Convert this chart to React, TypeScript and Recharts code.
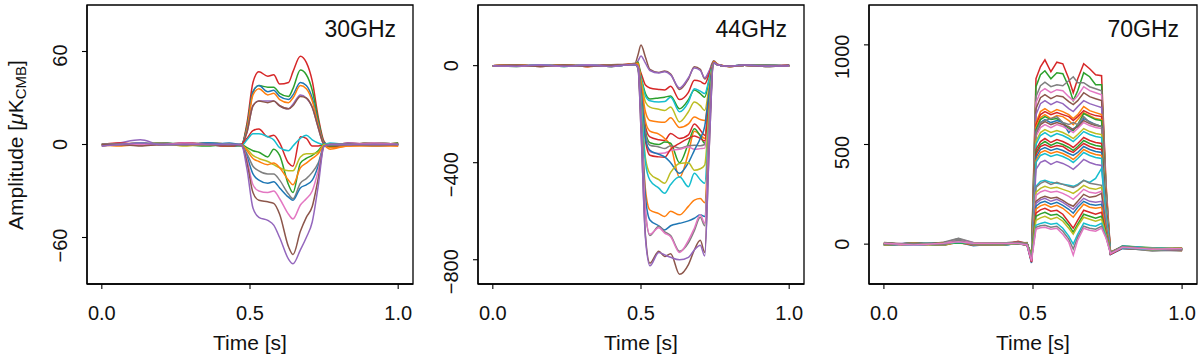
import React from 'react';
import { LineChart, Line, XAxis, YAxis, ReferenceArea } from 'recharts';

const COLORS: Record<string, string> = {
  blue: '#1f77b4', orange: '#ff7f0e', green: '#2ca02c', red: '#d62728', purple: '#9467bd',
  brown: '#8c564b', pink: '#e377c2', gray: '#7f7f7f', olive: '#bcbd22', cyan: '#17becf',
};

const FONT = "'Liberation Sans', Arial, sans-serif";

const X_TICKS = [0, 0.5, 1.0];
const X_TICK_LABELS = ['0.0', '0.5', '1.0'];
const X_DOMAIN: [number, number] = [-0.05, 1.05];

// ---------- 30 GHz ----------
const T1 = [0, 0.06, 0.13, 0.2, 0.28, 0.36, 0.43, 0.47, 0.49, 0.51, 0.53, 0.56, 0.58, 0.6, 0.63, 0.645, 0.67, 0.69, 0.71, 0.73, 0.75, 0.77, 0.83, 0.92, 1.0];
const P1_TICKS = [-60, 0, 60];
const P1_TICK_LABELS = ['\u221260', '0', '60'];
const P1_SERIES: [string, number[]][] = [
  ['red', [0, 1, 0, 1, 0, 1, 0, -1, 14, 40, 47, 44, 45, 39, 40, 47, 57, 53, 41, 18, 2, -1, 1, 0, 1]],
  ['green', [0, 0, 1, 0, 1, 0, -1, -1, 12, 34, 38, 37, 37, 33, 31, 36, 48, 45, 35, 16, 1, -1, 0, 1, 0]],
  ['blue', [-1, 0, 0, 1, 0, 0, 1, 0, 11, 34, 38, 34, 35, 31, 29, 32, 40, 38, 30, 14, 1, 0, 0, -1, 0]],
  ['orange', [-1, 0, 1, 0, 0, 1, 0, -1, 10, 32, 36, 32, 33, 29, 27, 30, 38, 36, 28, 13, 0, -2, -1, 0, -1]],
  ['purple', [-1, 1, 3, 0, 1, 0, -1, 0, 8, 25, 28, 28, 28, 25, 23, 26, 32, 30, 24, 11, 0, -1, 1, 0, 0]],
  ['brown', [0, 0, 1, 0, 0, 1, -1, 0, 8, 25, 28, 27, 28, 25, 23, 25, 31, 30, 24, 11, 0, -1, 0, 1, 0]],
  ['red', [0, 1, 0, 0, 1, 0, -1, 0, 4, 9, 10, 5, 6, 1, -12, -14, 5, 4, -1, -1, 0, -1, 0, 1, 0]],
  ['cyan', [0, 0, 1, 0, 0, 1, 0, -1, 3, 7, 7, 5, 3, -2, -4, -1, 4, 6, 3, 1, 0, 1, 0, 1, 0]],
  ['green', [0, 0, 0, 1, 0, -1, 0, 0, -2, -4, -5, -8, -3, -7, -26, -31, -12, -9, -7, -4, 0, -1, 0, 0, 1]],
  ['olive', [0, 0, 0, 1, -1, 0, 0, -1, -3, -7, -9, -11, -13, -15, -17, -17, -8, -6, -6, -5, 0, 0, 0, 1, 0]],
  ['orange', [0, -1, 0, 0, 0, 0, -1, 0, -4, -9, -11, -13, -12, -15, -23, -26, -15, -12, -9, -6, -1, -3, -1, -1, -1]],
  ['gray', [0, 0, 0, 1, 0, 0, 0, -1, -6, -14, -17, -19, -19, -23, -32, -35, -25, -22, -18, -12, -1, 0, 0, 1, 0]],
  ['blue', [0, 0, 0, 0, 0, 1, 0, 0, -8, -19, -23, -25, -24, -28, -34, -36, -28, -26, -23, -14, -1, 0, 0, 0, 0]],
  ['pink', [0, 0, 0, 0, 1, 0, 0, 0, -10, -26, -30, -31, -30, -35, -45, -48, -39, -35, -30, -17, -1, 0, 0, 1, 0]],
  ['brown', [0, 0, -1, 0, 0, 0, -1, 0, -12, -31, -36, -37, -38, -45, -66, -71, -56, -47, -40, -22, -1, 0, 0, 0, 0]],
  ['purple', [-1, 0, 1, 0, 0, 0, 0, 0, -16, -41, -47, -49, -52, -60, -74, -77, -68, -60, -50, -27, -1, 0, 0, 0, 0]],
];

// ---------- 44 GHz ----------
const T2 = [0, 0.08, 0.16, 0.24, 0.32, 0.4, 0.45, 0.48, 0.49, 0.5, 0.515, 0.53, 0.56, 0.58, 0.6, 0.63, 0.66, 0.68, 0.7, 0.715, 0.73, 0.745, 0.76, 0.8, 0.85, 0.92, 1.0];
const P2_TICKS = [-800, -400, 0];
const P2_TICK_LABELS = ['\u2212800', '\u2212400', '0'];
const P2_SERIES: [string, number[]][] = [
  ['brown', [0, 2, -3, 3, -2, 4, 6, 10, 45, 85, 35, -15, -28, -22, -35, -98, -55, -5, -15, -55, -25, 20, 5, -3, 4, 0, 2]],
  ['purple', [0, -2, 2, -2, 3, -3, 4, 8, 20, 40, 10, -20, -30, -25, -38, -92, -50, -10, -20, -50, -22, 15, 3, -2, 2, 3, 0]],
  ['red', [0, 3, -2, 2, -3, 3, 5, 8, 0, -30, -80, -92, -98, -100, -85, -140, -110, -60, -65, -75, -35, 15, 5, -4, 3, -2, 3]],
  ['green', [0, -2, 3, -2, 2, -3, 4, 6, 15, -45, -115, -137, -133, -130, -125, -178, -140, -100, -115, -130, -60, 15, 4, -3, 2, 3, -2]],
  ['cyan', [0, 2, -2, 3, -2, 2, 3, 5, -5, -50, -125, -145, -150, -148, -130, -190, -150, -95, -105, -115, -55, 12, 3, -2, 3, -2, 0]],
  ['olive', [0, -3, 2, -2, 3, -2, 3, 4, -5, -60, -150, -171, -180, -185, -170, -232, -190, -150, -165, -185, -85, 12, 3, -2, 2, 0, -2]],
  ['orange', [0, 3, -2, 2, -3, 2, 4, 5, 5, -70, -190, -226, -232, -233, -215, -255, -240, -212, -222, -226, -100, 12, 3, -3, 3, -2, 1]],
  ['red', [0, 2, -2, 3, -3, 2, 4, 6, -5, -90, -250, -294, -305, -308, -280, -300, -285, -240, -265, -287, -130, 12, 3, -3, 2, -2, 2]],
  ['orange', [0, -2, 3, -2, 2, -3, 3, 8, 10, -80, -230, -270, -282, -300, -330, -460, -360, -270, -285, -300, -130, 15, 4, -2, 2, -3, 0]],
  ['green', [0, -2, 2, -3, 2, -2, 3, 5, -5, -100, -270, -318, -325, -315, -320, -400, -320, -260, -290, -320, -140, 12, 3, -2, 2, -2, 0]],
  ['gray', [0, 2, -2, 2, -3, 3, 4, 5, 0, -100, -280, -328, -335, -342, -330, -340, -330, -328, -330, -325, -140, 12, 3, -2, 2, 3, -1]],
  ['pink', [0, -2, 3, -2, 2, -2, 3, 4, 0, -110, -300, -355, -362, -360, -350, -345, -335, -345, -342, -340, -150, 12, 3, -2, 2, -2, 1]],
  ['red', [0, 2, -3, 2, -2, 3, 3, 5, -5, -115, -310, -369, -376, -378, -345, -320, -300, -290, -300, -310, -140, 12, 3, -2, 2, -2, 0]],
  ['blue', [0, -3, 2, -2, 3, -2, 3, 4, -5, -110, -300, -349, -365, -376, -400, -444, -400, -349, -300, -250, -110, 10, 3, -2, 2, -3, 1]],
  ['olive', [0, 2, -2, 3, -2, 2, 3, 5, -10, -140, -380, -444, -470, -485, -440, -403, -400, -431, -425, -410, -180, 12, 3, -2, 3, -2, 0]],
  ['cyan', [0, -2, 3, -2, 2, -3, 3, 4, -10, -150, -400, -472, -505, -526, -490, -458, -499, -444, -470, -485, -210, 12, 3, -3, 2, -2, 1]],
  ['orange', [0, 2, -2, 2, -3, 2, 4, 8, 0, -190, -510, -595, -610, -622, -600, -615, -580, -554, -548, -565, -240, 15, 4, -3, 2, -2, 0]],
  ['blue', [0, -2, 2, -3, 2, -2, 3, 5, -5, -200, -540, -636, -660, -677, -660, -650, -640, -629, -615, -622, -270, 12, 3, -2, 3, -2, 0]],
  ['gray', [0, 2, -3, 2, -2, 3, 3, 6, -5, -220, -600, -700, -662, -685, -700, -765, -730, -680, -625, -660, -290, 12, 3, -2, 2, -2, 1]],
  ['pink', [0, -2, 2, -2, 3, -2, 3, 5, -5, -220, -600, -695, -668, -690, -705, -770, -720, -670, -615, -650, -285, 12, 3, -2, 2, -2, 0]],
  ['brown', [0, 2, -2, 3, -2, 2, 4, 6, -10, -260, -700, -814, -765, -787, -775, -860, -820, -760, -720, -770, -340, 12, 3, -2, 2, -3, 1]],
  ['purple', [0, -2, 3, -2, 2, -3, 3, 5, -10, -265, -710, -825, -770, -780, -790, -800, -790, -760, -740, -785, -345, 12, 3, -2, 3, -2, 0]],
];

// ---------- 70 GHz ----------
const T3 = [0, 0.1, 0.2, 0.25, 0.3, 0.4, 0.45, 0.48, 0.495, 0.51, 0.525, 0.54, 0.56, 0.58, 0.6, 0.62, 0.635, 0.65, 0.67, 0.69, 0.71, 0.73, 0.745, 0.76, 0.8, 0.9, 1.0];
const P3_TICKS = [0, 500, 1000];
const P3_TICK_LABELS = ['0', '500', '1000'];
const P3_SERIES: [string, number[]][] = [
  ['red', [5, -3, 8, 12, 3, -2, 10, 4, -60, 830, 890, 925, 865, 913, 905, 830, 760, 830, 905, 880, 850, 845, 300, -40, -12, -25, -20]],
  ['green', [-4, 6, 2, 15, -5, 4, 6, -3, -70, 790, 850, 870, 830, 860, 855, 790, 720, 770, 860, 840, 800, 800, 280, -45, -15, -20, -28]],
  ['gray', [3, -5, 10, 30, 8, 2, 5, 8, -80, 740, 795, 813, 790, 800, 795, 820, 840, 810, 810, 790, 780, 770, 270, -50, -20, -30, -35]],
  ['pink', [-6, 4, -3, 25, 6, -4, 8, 2, -75, 710, 765, 780, 760, 775, 770, 740, 720, 745, 790, 770, 760, 750, 260, -40, -10, -22, -18]],
  ['brown', [8, -2, 5, 20, -3, 6, 12, -5, -65, 680, 735, 750, 730, 745, 740, 715, 700, 720, 760, 740, 730, 720, 250, -45, -18, -28, -25]],
  ['purple', [-2, 7, -6, 10, 4, -5, 3, 6, -85, 650, 705, 720, 700, 715, 705, 680, 665, 690, 720, 705, 695, 685, 240, -50, -14, -24, -30]],
  ['orange', [4, -4, 6, 8, -6, 3, 7, -2, -60, 610, 665, 680, 660, 675, 665, 650, 630, 650, 690, 670, 660, 650, 230, -42, -20, -26, -32]],
  ['red', [-5, 3, -4, 12, 5, -6, 15, 3, -90, 600, 650, 665, 650, 660, 650, 640, 620, 640, 670, 655, 645, 640, 220, -48, -12, -22, -24]],
  ['orange', [2, -6, 4, 6, -2, 5, 4, -4, -70, 585, 635, 650, 630, 645, 640, 620, 600, 625, 660, 645, 630, 625, 215, -40, -16, -30, -22]],
  ['green', [-3, 5, -2, 14, 3, -3, 6, 5, -55, 575, 625, 640, 625, 630, 610, 580, 570, 600, 655, 640, 625, 620, 210, -46, -10, -18, -26]],
  ['blue', [6, -3, 3, 9, -8, 4, 2, -6, -95, 560, 610, 625, 610, 620, 610, 560, 580, 590, 630, 615, 600, 590, 205, -52, -22, -28, -20]],
  ['brown', [-4, 2, 7, 18, 2, -2, 9, 3, -60, 550, 600, 615, 600, 610, 600, 590, 575, 590, 620, 605, 595, 590, 200, -44, -15, -25, -30]],
  ['pink', [3, -5, -4, 22, 7, 5, 5, -3, -70, 540, 585, 600, 585, 600, 590, 575, 560, 580, 610, 595, 585, 580, 195, -40, -12, -20, -24]],
  ['gray', [-2, 4, 6, 28, -4, -4, 11, 6, -80, 560, 610, 620, 630, 640, 610, 600, 610, 600, 640, 610, 600, 590, 200, -48, -18, -34, -28]],
  ['olive', [4, -2, -5, 10, 5, 3, 4, -2, -65, 515, 560, 575, 560, 570, 560, 545, 530, 550, 580, 565, 555, 550, 185, -42, -14, -24, -22]],
  ['cyan', [-5, 3, 4, 16, -3, -5, 7, 4, -75, 500, 545, 560, 540, 555, 545, 530, 515, 535, 565, 550, 540, 535, 180, -46, -12, -20, -26]],
  ['red', [2, -4, 3, 12, 6, 4, 3, -5, -60, 475, 515, 530, 510, 525, 515, 500, 485, 505, 535, 520, 510, 505, 170, -40, -16, -28, -30]],
  ['green', [-3, 5, -3, 14, -2, -2, 8, 3, -70, 460, 500, 515, 495, 510, 500, 485, 470, 490, 520, 505, 495, 490, 165, -44, -14, -22, -20]],
  ['red', [5, -2, 4, 8, 3, 5, 2, -3, -85, 450, 490, 500, 485, 495, 490, 470, 460, 480, 505, 490, 480, 475, 160, -50, -20, -26, -24]],
  ['blue', [-4, 3, -2, 18, -5, -3, 6, 5, -60, 435, 475, 485, 470, 480, 470, 455, 445, 460, 490, 475, 465, 460, 155, -42, -12, -30, -26]],
  ['orange', [3, -5, 5, 10, 4, 2, 5, -2, -65, 420, 460, 470, 455, 465, 455, 440, 425, 445, 475, 460, 450, 445, 150, -46, -18, -22, -28]],
  ['cyan', [-2, 4, -4, 15, -3, -5, 4, 3, -70, 410, 445, 455, 440, 450, 440, 425, 410, 430, 460, 445, 435, 430, 145, -40, -14, -26, -22]],
  ['purple', [4, -3, 3, 9, 5, 4, 8, -4, -80, 375, 410, 420, 400, 415, 405, 390, 375, 395, 425, 410, 400, 395, 135, -48, -16, -24, -30]],
  ['cyan', [-3, 5, -5, 20, -4, -2, 3, 4, -65, 290, 315, 320, 310, 305, 300, 295, 290, 300, 320, 310, 330, 380, 130, -44, -10, -20, -24]],
  ['gray', [5, -4, 4, 26, 6, 3, 10, -3, -75, 285, 305, 315, 300, 310, 300, 290, 285, 295, 320, 305, 300, 295, 100, -50, -20, -32, -28]],
  ['olive', [-4, 3, -3, 12, -5, -4, 5, 5, -60, 260, 280, 290, 280, 285, 275, 265, 255, 270, 295, 280, 275, 285, 95, -42, -12, -24, -20]],
  ['pink', [3, -5, 5, 18, 4, 5, 6, -3, -70, 245, 262, 270, 260, 265, 255, 240, 225, 245, 275, 260, 255, 265, 90, -46, -16, -22, -26]],
  ['brown', [-2, 4, -4, 14, -3, -3, 7, 4, -65, 215, 232, 240, 230, 235, 220, 200, 190, 215, 250, 235, 240, 255, 85, -40, -14, -28, -22]],
  ['purple', [4, -3, 2, 10, 5, 3, 4, -4, -75, 205, 222, 230, 215, 225, 210, 190, 175, 200, 230, 215, 210, 215, 75, -48, -18, -26, -30]],
  ['blue', [-5, 3, -4, 16, -4, -5, 5, 3, -60, 190, 208, 215, 200, 210, 195, 175, 155, 185, 215, 200, 195, 200, 70, -44, -12, -22, -24]],
  ['orange', [3, -4, 5, 8, 4, 4, 3, -3, -70, 175, 192, 200, 185, 195, 180, 155, 135, 165, 200, 185, 180, 185, 65, -42, -16, -30, -20]],
  ['red', [-3, 5, -3, 12, -5, -2, 9, 4, -90, 155, 172, 180, 165, 170, 150, 110, 80, 120, 170, 160, 150, 160, 55, -50, -20, -24, -28]],
  ['green', [5, -2, 4, 6, 3, 5, 2, -4, -60, 140, 152, 160, 145, 150, 130, 95, 60, 100, 150, 140, 130, 140, 50, -44, -12, -26, -22]],
  ['olive', [-4, 4, -5, 14, -3, -4, 6, 5, -65, 120, 132, 140, 125, 135, 115, 80, 50, 90, 135, 125, 115, 125, 45, -40, -14, -22, -26]],
  ['cyan', [3, -5, 3, 10, 5, 3, 4, -2, -75, 95, 104, 110, 100, 105, 80, 40, 0, 50, 105, 95, 90, 105, 40, -46, -18, -28, -24]],
  ['gray', [-2, 3, -4, 20, -4, -3, 8, 3, -70, 85, 92, 95, 85, 90, 65, 25, -25, 35, 90, 80, 75, 90, 35, -42, -12, -24, -30]],
  ['pink', [4, -4, 5, 12, 4, 4, 3, -4, -85, 75, 82, 85, 75, 80, 50, 10, -55, 20, 80, 70, 65, 80, 30, -48, -16, -26, -22]],
];

function buildRows(T: number[], series: [string, number[]][]) {
  return T.map((t, i) => {
    const row: Record<string, number> = { t };
    series.forEach((s, j) => { row['s' + j] = s[1][i]; });
    return row;
  });
}

const XTick = (props: any) => {
  const { x, y, payload } = props;
  const idx = X_TICKS.indexOf(payload.value);
  return (
    <text x={x} y={y + 29} textAnchor="middle" fontFamily={FONT} fontSize={20} fill="#111">
      {idx >= 0 ? X_TICK_LABELS[idx] : ''}
    </text>
  );
};

const makeYTick = (ticks: number[], labels: string[]) => (props: any) => {
  const { x, y, payload } = props;
  const idx = ticks.indexOf(payload.value);
  const label = idx >= 0 ? labels[idx] : '';
  const bx = x - 13;
  const cy = y + (label.length - 1) * 4;
  return (
    <text x={bx} y={cy} transform={`rotate(-90, ${bx}, ${cy})`} textAnchor="middle" fontFamily={FONT} fontSize={20} fill="#111">
      {label}
    </text>
  );
};

type PanelProps = {
  left: number; width: number; yW: number; rightM: number;
  T: number[]; series: [string, number[]][]; domain: [number, number];
  ticks: number[]; tickLabels: string[]; curve: 'monotone' | 'linear';
};

function Panel({ left, width, yW, rightM, T, series, domain, ticks, tickLabels, curve }: PanelProps) {
  const data = buildRows(T, series);
  const YTick = makeYTick(ticks, tickLabels);
  const frame = { stroke: '#000', strokeWidth: 1.3 };
  return (
    <div style={{ position: 'absolute', left, top: 0 }}>
      <LineChart width={width} height={360} data={data} margin={{ top: 5, right: rightM, bottom: 0, left: 0 }}>
        <XAxis dataKey="t" type="number" domain={X_DOMAIN} ticks={X_TICKS} tick={<XTick />} tickSize={5} tickMargin={2}
          tickLine={{ stroke: '#000', strokeWidth: 1.1 }} axisLine={frame} height={76} allowDataOverflow interval={0} />
        <YAxis type="number" domain={domain} ticks={ticks} width={yW} tick={<YTick />} tickSize={5} tickMargin={2}
          tickLine={{ stroke: '#000', strokeWidth: 1.1 }} axisLine={frame} allowDataOverflow interval={0} />
        {series.map((s, j) => (
          <Line key={j} dataKey={'s' + j} stroke={COLORS[s[0]]} strokeWidth={1.5} dot={false}
            activeDot={false} isAnimationActive={false} type={curve} />
        ))}
        <ReferenceArea x1={X_DOMAIN[0]} x2={X_DOMAIN[1]} y1={domain[0]} y2={domain[1]}
          fill="none" fillOpacity={0} stroke="#000" strokeWidth={1.3} strokeOpacity={1} ifOverflow="visible" />
      </LineChart>
    </div>
  );
}

export default function App() {
  return (
    <div style={{ position: 'absolute', left: 0, top: 0, width: 1200, height: 360, background: '#fff' }}>
      <Panel left={0} width={420} yW={87} rightM={7} T={T1} series={P1_SERIES} domain={[-90, 90]}
        ticks={P1_TICKS} tickLabels={P1_TICK_LABELS} curve="monotone" />
      <Panel left={430} width={380} yW={48} rightM={6} T={T2} series={P2_SERIES} domain={[-900, 250]}
        ticks={P2_TICKS} tickLabels={P2_TICK_LABELS} curve="monotone" />
      <Panel left={820} width={380} yW={49} rightM={3} T={T3} series={P3_SERIES} domain={[-200, 1200]}
        ticks={P3_TICKS} tickLabels={P3_TICK_LABELS} curve="linear" />
      <svg width={1200} height={360} style={{ position: 'absolute', left: 0, top: 0, pointerEvents: 'none' }}>
        <g fontFamily={FONT} fill="#111">
          <text x={396} y={37} textAnchor="end" fontSize={23}>30GHz</text>
          <text x={787} y={37} textAnchor="end" fontSize={23}>44GHz</text>
          <text x={1179} y={37} textAnchor="end" fontSize={23}>70GHz</text>
          <text x={250} y={350} textAnchor="middle" fontSize={21}>Time [s]</text>
          <text x={641} y={350} textAnchor="middle" fontSize={21}>Time [s]</text>
          <text x={1033} y={350} textAnchor="middle" fontSize={21}>Time [s]</text>
          <text x={-145} y={23} transform="rotate(-90)" textAnchor="middle" fontSize={21}>
            Amplitude [<tspan fontStyle="italic">{'\u03bc'}</tspan>K<tspan fontSize={15} dy={3}>CMB</tspan><tspan dy={-3}>]</tspan>
          </text>
        </g>
      </svg>
    </div>
  );
}
